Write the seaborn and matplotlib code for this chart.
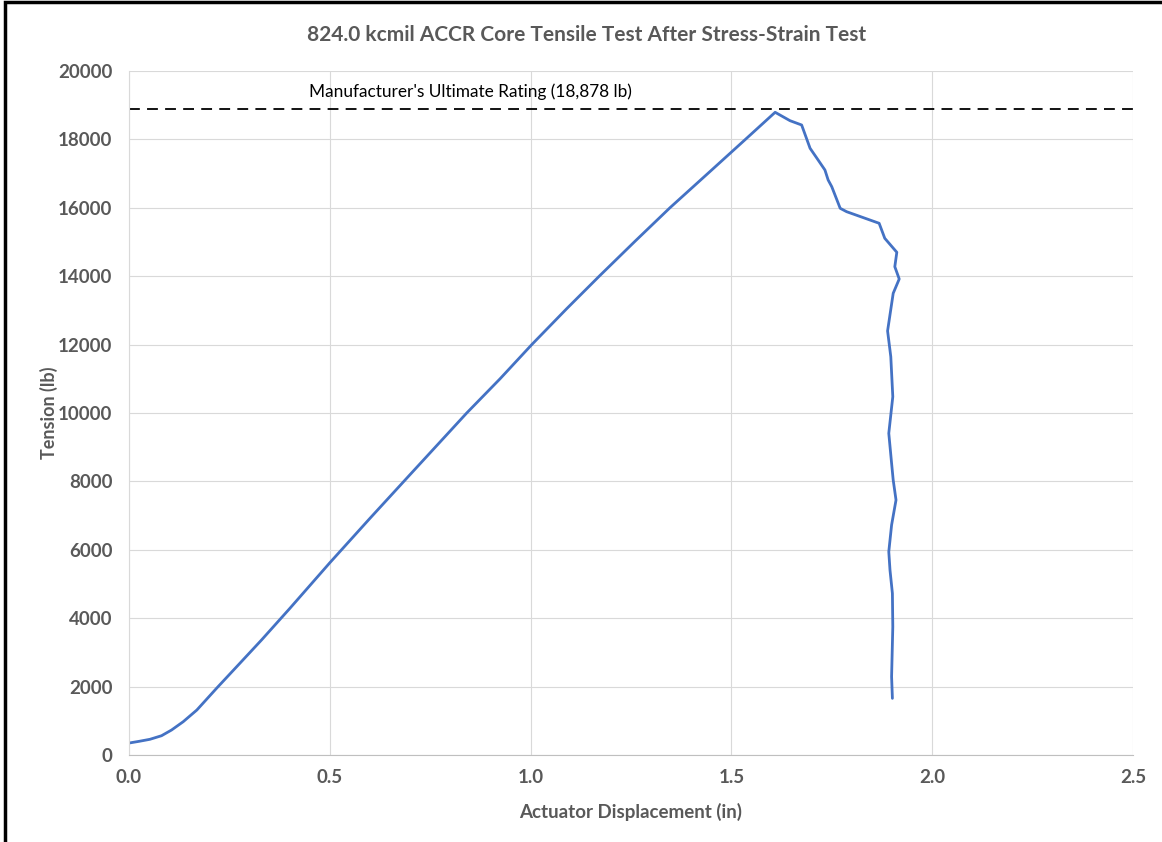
import matplotlib
matplotlib.use('Agg')
import matplotlib.pyplot as plt
import seaborn as sns
import pandas as pd
from matplotlib.patches import Rectangle

# Values
displacement = [0.000, 0.025, 0.052, 0.081, 0.106, 0.135, 0.169, 0.218, 0.276, 0.330,
                0.400, 0.500, 0.600, 0.700, 0.841, 0.924, 1.003, 1.090, 1.171, 1.260,
                1.347, 1.451, 1.535, 1.609,
                1.646, 1.675, 1.696, 1.716, 1.733, 1.741, 1.750, 1.771, 1.787, 1.868,
                1.882, 1.912, 1.907, 1.918, 1.903, 1.889, 1.897, 1.902, 1.892, 1.899,
                1.903, 1.910, 1.899, 1.892, 1.895, 1.901, 1.902, 1.899, 1.901]
tension = [350, 400, 459, 564, 731, 974, 1316, 1950, 2681, 3363,
           4280, 5620, 6920, 8200, 10000, 11000, 12000, 13050, 14000, 15020,
           16000, 17105, 18000, 18792,
           18547, 18421, 17740, 17398, 17105, 16813, 16617, 15985, 15886, 15547,
           15108, 14699, 14278, 13918, 13500, 12400, 11646, 10477, 9406, 8529,
           8040, 7456, 6725, 5945, 5409, 4727, 3750, 2290, 1657]

rating = 18878
rating_label = "Manufacturer's Ultimate Rating (18,878 lb)"
title = "824.0 kcmil ACCR Core Tensile Test After Stress-Strain Test"

df = pd.DataFrame({'Displacement': displacement, 'Tension': tension})

sns.set_style('whitegrid', {'grid.color': '#d9d9d9', 'axes.edgecolor': '#bfbfbf'})
plt.rcParams['font.family'] = ['Lato', 'DejaVu Sans']

fig = plt.figure(figsize=(11.62, 8.42), dpi=100)
ax = fig.add_axes([0.111, 0.1033, 0.864, 0.8124])

sns.lineplot(data=df, x='Displacement', y='Tension', sort=False, estimator=None,
             ax=ax, color='#4472C4', linewidth=2)
ax.axhline(rating, color='black', linestyle=(0, (6, 4)), linewidth=1.3)
ax.text(0.448, 19380, rating_label, fontsize=12.4, color='black', va='center', ha='left')

ax.set_xlim(0, 2.5)
ax.set_ylim(0, 20000)
ax.set_xticks([0, 0.5, 1.0, 1.5, 2.0, 2.5])
ax.set_xticklabels(['0.0', '0.5', '1.0', '1.5', '2.0', '2.5'])
ax.set_yticks(range(0, 20001, 2000))
ax.tick_params(labelsize=13.5, colors='#595959', length=0)
ax.tick_params(axis='y', pad=12)
ax.tick_params(axis='x', pad=10)
for lbl in ax.get_xticklabels() + ax.get_yticklabels():
    lbl.set_fontweight('bold')

ax.set_xlabel('Actuator Displacement (in)', fontsize=13.5, fontweight='bold', color='#595959', labelpad=12)
ax.set_ylabel('Tension (lb)', fontsize=13, fontweight='bold', color='#595959', labelpad=0)
fig.text(0.505, 0.958, title, fontsize=15, fontweight='bold', color='#595959',
         ha='center', va='center')

for side in ['top', 'right']:
    ax.spines[side].set_visible(False)
ax.spines['left'].set_color('#d9d9d9')
ax.spines['bottom'].set_color('#bfbfbf')

# Screenshot frame
fig.patches.append(Rectangle((0.004, -0.1), 1.2, 1.0976, transform=fig.transFigure,
                             fill=False, edgecolor='black', linewidth=2.5))

fig.savefig('out.png', dpi=100)
